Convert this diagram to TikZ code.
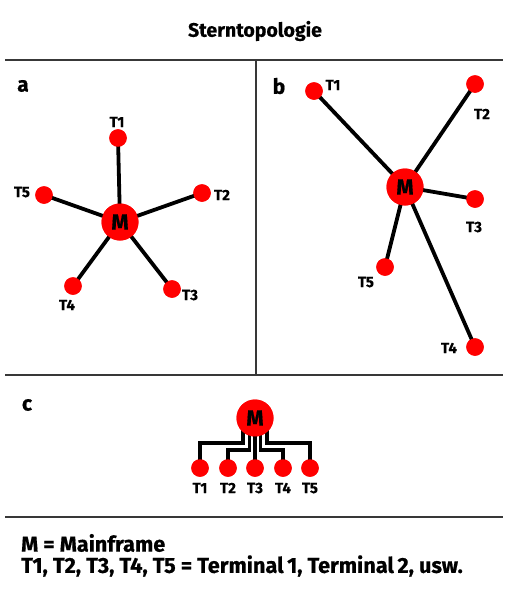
\documentclass[tikz,border=0pt]{standalone}
\usepackage{fontspec}
\setmainfont{Fira Sans}[UprightFont=* Bold, BoldFont=* Bold, FakeBold=0.6]
\begin{document}
\begin{tikzpicture}[x=1pt,y=-1pt,
  frame/.style={draw=black!78, line width=2.8pt},
  term/.style={circle, fill=red, minimum size=17.5pt, inner sep=0pt},
  hub/.style={circle, fill=red, minimum size=37pt, inner sep=0pt, font=\fontsize{22}{22}\selectfont},
  tlab/.style={font=\fontsize{15}{15}\selectfont, inner sep=0pt},
  plab/.style={font=\fontsize{21}{21}\selectfont, inner sep=0pt},
  legtext/.style={font=\fontsize{21.7}{21.7}\selectfont, inner sep=0pt, anchor=west},
  wire/.style={line width=3.8pt, black}]
\useasboundingbox (0,0) rectangle (512,600);
% title and frame
\node[font=\fontsize{19.5}{19.5}\selectfont] (title) at (255,31) {Sterntopologie};
\coordinate (l1a) at (5,60); \coordinate (l1b) at (503,60);
\coordinate (l2a) at (5,375); \coordinate (l2b) at (503,375);
\coordinate (l3a) at (5,517); \coordinate (l3b) at (503,517);
\coordinate (va) at (256,60); \coordinate (vb) at (256,375);
\draw[frame] (l1a) -- (l1b);
\draw[frame] (l2a) -- (l2b);
\draw[frame] (l3a) -- (l3b);
\draw[frame] (va) -- (vb);
% panel a
\node[plab] (pa) at (23,86) {a};
\node[hub] (aM) at (120,222) {};
\node[term] (aT1) at (118,138) {};
\node[term] (aT2) at (202,193) {};
\node[term] (aT3) at (172,289) {};
\node[term] (aT4) at (73,286) {};
\node[term] (aT5) at (44,195) {};
\draw[wire] (aM.center) -- (aT1.center);
\draw[wire] (aM.center) -- (aT2.center);
\draw[wire] (aM.center) -- (aT3.center);
\draw[wire] (aM.center) -- (aT4.center);
\draw[wire] (aM.center) -- (aT5.center);
\node[hub] at (aM) {M};
\foreach \n in {aT1,aT2,aT3,aT4,aT5} {\node[term] at (\n) {};}
\node[tlab] (laT1) at (117,122) {T1};
\node[tlab] (laT2) at (222,195) {T2};
\node[tlab] (laT3) at (190,295) {T3};
\node[tlab] (laT4) at (67,305) {T4};
\node[tlab] (laT5) at (22,192) {T5};
% panel b
\node[plab] (pb) at (279,86) {b};
\node[hub] (bM) at (405,187) {};
\node[term] (bT1) at (314,91) {};
\node[term] (bT2) at (475,84) {};
\node[term] (bT3) at (475,199) {};
\node[term] (bT4) at (475,347) {};
\node[term] (bT5) at (385,267) {};
\draw[wire] (bM.center) -- (bT1.center);
\draw[wire] (bM.center) -- (bT2.center);
\draw[wire] (bM.center) -- (bT3.center);
\draw[wire] (bM.center) -- (bT4.center);
\draw[wire] (bM.center) -- (bT5.center);
\node[hub] at (bM) {M};
\foreach \n in {bT1,bT2,bT3,bT4,bT5} {\node[term] at (\n) {};}
\node[tlab] (lbT1) at (333,85) {T1};
\node[tlab] (lbT2) at (482,114) {T2};
\node[tlab] (lbT3) at (474,227) {T3};
\node[tlab] (lbT4) at (449,348) {T4};
\node[tlab] (lbT5) at (366,282) {T5};
% panel c
\node[plab] (pc) at (27,405) {c};
\node[hub] (cM) at (255,418) {};
\node[term] (cT1) at (200,468) {};
\node[term] (cT2) at (228,468) {};
\node[term] (cT3) at (255,468) {};
\node[term] (cT4) at (283,468) {};
\node[term] (cT5) at (310,468) {};
\draw[wire] (cM.center) ++(-12,0) |- (200,443) -- (cT1.center);
\draw[wire] (cM.center) ++(-5.5,0) |- (228,450) -- (cT2.center);
\draw[wire] (cM.center) -- (cT3.center);
\draw[wire] (cM.center) ++(5.5,0) |- (283,450) -- (cT4.center);
\draw[wire] (cM.center) ++(12,0) |- (310,443) -- (cT5.center);
\node[hub] at (cM) {M};
\foreach \n in {cT1,cT2,cT3,cT4,cT5} {\node[term] at (\n) {};}
\foreach \n/\t in {cT1/T1,cT2/T2,cT3/T3,cT4/T4,cT5/T5} {\node[tlab] at ([yshift=-20pt]\n.center) {\t};}
% legend
\node[legtext] (leg1) at (21,543) {M = Mainframe};
\node[legtext] (leg2) at (21,566) {T1, T2, T3, T4, T5 = Terminal\,1, Terminal\,2, usw.};
\end{tikzpicture}
\end{document}
